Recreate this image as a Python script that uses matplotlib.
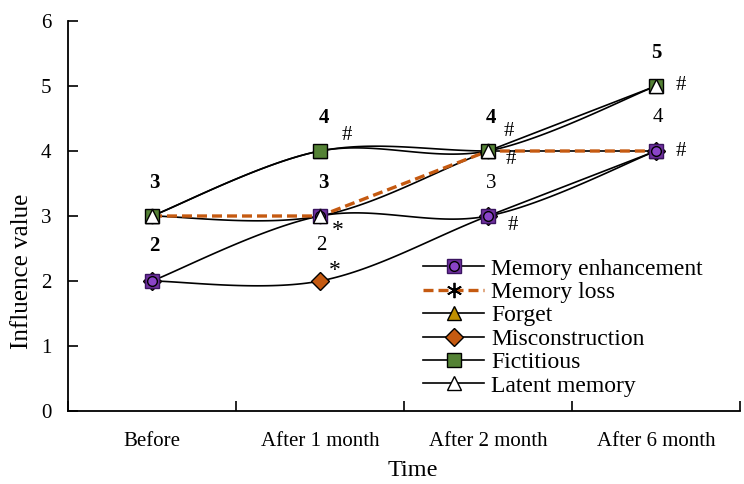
import numpy as np
import matplotlib
matplotlib.use("Agg")
import matplotlib.pyplot as plt
from matplotlib.lines import Line2D
from matplotlib.legend_handler import HandlerTuple

plt.rcParams['font.family'] = ['Liberation Serif', 'DejaVu Serif']

# data
categories = ['Before', 'After 1 month', 'After 2 month', 'After 6 month']
memory_enhancement = [2, 3, 3, 4]
memory_loss = [3, 3, 4, 4]
forget = [3, 4, 4, 4]
misconstruction = [2, 2, 3, 4]
fictitious = [3, 4, 4, 5]
latent_memory = [3, 3, 4, 5]

# significance / value labels: (category index, value, text, dx px, dy px, bold)
annotations = [
    (0, 3, '3', 2, 33, True), (0, 2, '2', 2, 35, True),
    (1, 4, '4', 4, 33, True), (1, 4, '#', 27, 16, False),
    (1, 3, '3', 3, 33, True), (1, 3, '*', 18, -14, False),
    (1, 2, '2', 1, 35, False), (1, 2, '*', 15, 10, False),
    (2, 4, '4', 3, 33, True), (2, 4, '#', 21, 20, False),
    (2, 4, '#', 23, -9, False), (2, 3, '3', 3, 33, False),
    (2, 3, '#', 25, -9, False),
    (3, 5, '5', 0, 33, True), (3, 5, '#', 25, 0, False),
    (3, 4, '4', 2, 33, False), (3, 4, '#', 25, 0, False),
]


def smooth(xs, ys, n=40):
    # excel style smoothed line (bezier through the points)
    pts = np.column_stack([xs, ys]).astype(float)
    out = []
    for i in range(len(pts) - 1):
        p0 = pts[max(i - 1, 0)]
        p1 = pts[i]
        p2 = pts[i + 1]
        p3 = pts[min(i + 2, len(pts) - 1)]
        c1 = p1 + (p2 - p0) / 6
        c2 = p2 - (p3 - p1) / 6
        t = np.linspace(0, 1, n)[:, None]
        seg = (1-t)**3*p1 + 3*(1-t)**2*t*c1 + 3*(1-t)*t**2*c2 + t**3*p2
        out.append(seg if i == 0 else seg[1:])
    return np.vstack(out)


purple = '#7030A0'
purple2 = '#8A44C8'
orange = '#C55A11'
gold = '#BF9000'
green = '#548235'

x = np.arange(len(categories))

fig = plt.figure(figsize=(7.44, 4.84), dpi=100)
ax = fig.add_axes([68/744, 1-411/484, 672/744, 390/484])

# (values, smoothed?, line style, marker style, marker zorder)
series = [
    (memory_enhancement, True, dict(color='black', lw=1.2, ls='-'),
     dict(marker='s', mfc=purple, mec='#3a1460', ms=10), 4.3),
    (memory_loss, False, dict(color=orange, lw=2.4, ls=(0, (3, 1.5))),
     dict(marker=(6, 2, 0), mfc='black', mec='black', ms=11, mew=1.3), 4.1),
    (forget, True, dict(color='black', lw=1.2, ls='-'),
     dict(marker='^', mfc=gold, mec='black', ms=10), 4.2),
    (misconstruction, True, dict(color='black', lw=1.2, ls='-'),
     dict(marker='D', mfc=orange, mec='black', ms=9), 4.25),
    (fictitious, True, dict(color='black', lw=1.2, ls='-'),
     dict(marker='s', mfc=green, mec='black', ms=10), 4.5),
    (latent_memory, True, dict(color='black', lw=1.2, ls='-'),
     dict(marker='^', mfc='white', mec='black', ms=10), 4.6),
]

for k, (vals, sm, lstyle, mstyle, mz) in enumerate(series):
    if sm:
        curve = smooth(x, vals)
        ax.plot(curve[:, 0], curve[:, 1], zorder=2 + k * 0.1, **lstyle)
    else:
        ax.plot(x, vals, zorder=3, **lstyle)
    ax.plot(x, vals, ls='none', zorder=mz, **mstyle)
    if k == 0:
        ax.plot(x, vals, ls='none', marker='o', mfc=purple2, mec='black', ms=7, zorder=mz + 0.01)

for ci, v, txt, dx, dy, bold in annotations:
    fs = 17 if txt == '*' else 15
    ax.annotate(txt, xy=(ci, v), xytext=(dx * 0.72, dy * 0.72), textcoords='offset points',
                ha='center', va='center', fontsize=fs, fontweight='bold' if bold else 'normal')

ax.set_xlim(-0.5, 3.5)
ax.set_ylim(0, 6)
ax.set_yticks(range(7))
ax.set_xticks(x)
ax.set_xticklabels(categories)
ax.set_xticks(np.arange(-0.5, 4, 1), minor=True)
ax.tick_params(axis='x', which='major', length=0, pad=15, labelsize=15)
ax.tick_params(axis='x', which='minor', length=7, width=1.2, direction='in')
ax.tick_params(axis='y', length=7, width=1.2, direction='in', pad=12, labelsize=15)
for s in ['top', 'right']:
    ax.spines[s].set_visible(False)
for s in ['left', 'bottom']:
    ax.spines[s].set_linewidth(1.3)

ax.set_xlabel('Time', fontsize=17.5)
ax.set_ylabel('Influence value', fontsize=18)
ax.xaxis.set_label_coords((413-68)/672, (411-460)/390)
ax.yaxis.set_label_coords((33-68)/672, (411-271)/390)

names = ['Memory enhancement', 'Memory loss', 'Forget', 'Misconstruction', 'Fictitious', 'Latent memory']
handles = []
for k, (vals, sm, lstyle, mstyle, mz) in enumerate(series):
    h = Line2D([], [], **lstyle, **mstyle)
    if k == 0:
        h = (h, Line2D([], [], ls='none', marker='o', mfc=purple2, mec='black', ms=7))
    handles.append(h)
ax.legend(handles, names, loc='upper left', bbox_to_anchor=((423-68)/672, (411-258)/390),
          frameon=False, fontsize=17, handlelength=2.6, handletextpad=0.3,
          labelspacing=0.08, borderpad=0, borderaxespad=0,
          handler_map={tuple: HandlerTuple(ndivide=1)})

plt.savefig('out.png', dpi=100)
